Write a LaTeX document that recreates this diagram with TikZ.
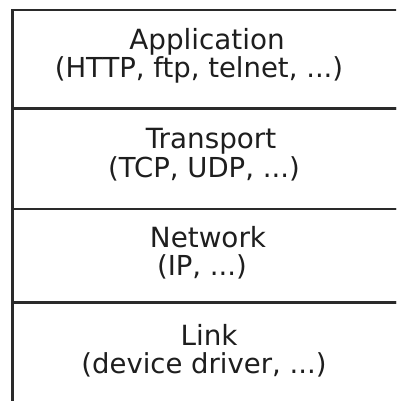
\documentclass[tikz,border=0pt]{standalone}
\usepackage{fontspec}
\setmainfont{DejaVu Sans}
\definecolor{rule}{HTML}{2A2A2A}
\definecolor{ink}{HTML}{1E1E1E}
\tikzset{
  layer/.style={draw=rule, line width=2.3pt},
  title/.style={anchor=base, inner sep=0pt, text=ink, font=\fontsize{27.8}{30}\selectfont},
  detail/.style={anchor=base, inner sep=0pt, text=ink, font=\fontsize{27.5}{30}\selectfont}
}
\begin{document}
\begin{tikzpicture}[x=1pt, y=-1pt]
  \useasboundingbox (0,0) rectangle (396,401);
  \clip (0,0) rectangle (396,401);
  \fill[white] (0,0) rectangle (396,401);

  % protocol layers, stacked top to bottom (open to the right and below)
  \draw[layer] (12.5,10)    rectangle (420,108.5);
  \draw[layer] (12.5,108.5) rectangle (420,209);
  \draw[layer] (12.5,209)   rectangle (420,302.5);
  \draw[layer] (12.5,302.5) rectangle (420,430);

  % layer names and example protocols
  \node[title]  (app)    at (207,50)  {Application};
  \node[detail] (appx)   at (199,78)  {(HTTP, ftp, telnet, ...)};
  \node[title]  (trans)  at (211,148) {Transport};
  \node[detail] (transx) at (204,177) {(TCP, UDP, ...)};
  \node[title]  (net)    at (208,247) {Network};
  \node[detail] (netx)   at (202,275) {(IP, ...)};
  \node[title]  (link)   at (209,345) {Link};
  \node[detail] (linkx)  at (204,373) {(device driver, ...)};
\end{tikzpicture}
\end{document}
